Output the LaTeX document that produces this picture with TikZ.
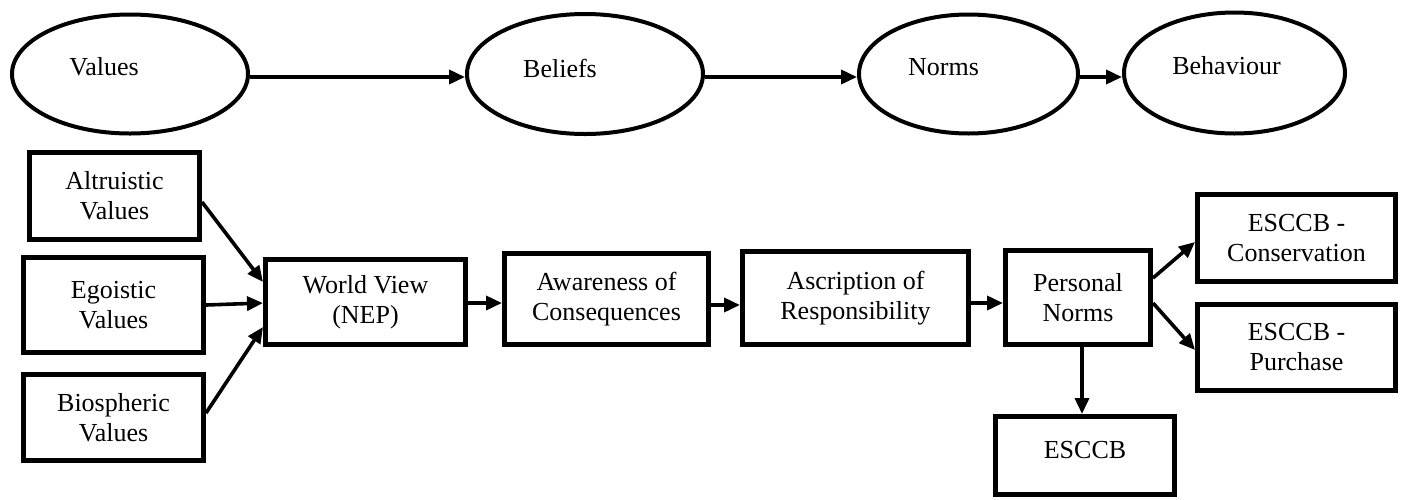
\documentclass[tikz,border=0pt]{standalone}
\usepackage{fontspec}
\setmainfont{Liberation Serif}
\usetikzlibrary{shapes.geometric,arrows.meta}

\begin{document}
\begin{tikzpicture}[x=1pt,y=-1pt,
  every node/.style={font=\fontsize{26}{30}\selectfont},
  oval/.style={draw, ellipse, line width=4pt, inner sep=0pt},
  box/.style={draw, rectangle, line width=5pt, inner sep=0pt, align=center},
  txt/.style={inner sep=0pt, anchor=base},
  link/.style={line width=3.6pt, -{Triangle[length=16pt,width=14pt]}}
]
\useasboundingbox (0,0) rectangle (1405,499);

% upper row: value-belief-norm chain
\node[oval, minimum width=236pt, minimum height=119pt] (val) at (130,74) {};
\node[oval, minimum width=236pt, minimum height=120pt] (bel) at (585,74) {};
\node[oval, minimum width=219pt, minimum height=119pt] (nor) at (968.5,74) {};
\node[oval, minimum width=221pt, minimum height=121pt] (beh) at (1234.5,73) {};
\node[txt] (valt) at (104,75) {Values};
\node[txt] (belt) at (560,77) {Beliefs};
\node[txt] (nort) at (943.5,75) {Norms};
\node[txt] (beht) at (1226.5,74) {Behaviour};

\draw[link] ([yshift=-3pt]val.east) -- ([yshift=-3pt]val.east -| bel.west);
\draw[link] ([yshift=-3pt]bel.east) -- ([yshift=-3pt]bel.east -| nor.west);
\draw[link] ([yshift=-3pt]nor.east) -- ([yshift=-3pt]nor.east -| beh.west);

% lower row: value orientations
\node[box, minimum width=170pt, minimum height=87pt] (alt) at (114.5,196) {Altruistic\\Values};
\node[box, minimum width=180pt, minimum height=95pt] (ego) at (113.5,305) {Egoistic\\Values};
\node[box, minimum width=180pt, minimum height=86pt] (bio) at (113.5,417.5) {Biospheric\\Values};

% lower row: causal chain
\node[box, minimum width=200pt, minimum height=85pt] (wv) at (365.5,302) {World View\\(NEP)};
\node[box, minimum width=204pt, minimum height=91pt] (aw) at (606.5,299) {Awareness of\\Consequences};
\node[box, minimum width=226pt, minimum height=93pt] (as) at (855.5,298) {Ascription of\\Responsibility};
\node[box, minimum width=145pt, minimum height=94pt] (pn) at (1078,297.5) {Personal\\Norms};

% behaviour outcomes
\node[box, minimum width=198pt, minimum height=87pt] (con) at (1296.5,238) {ESCCB -\\Conservation};
\node[box, minimum width=198pt, minimum height=86pt] (pur) at (1296.5,347.5) {ESCCB -\\Purchase};
\node[box, minimum width=179pt, minimum height=78pt] (esc) at (1085,455.5) {};
\node[txt] (esct) at (1085,458) {ESCCB};

% connectors
\draw[link] ([yshift=-6pt]alt.east) -- ([yshift=20pt]wv.west);
\draw[link] (ego.east) -- ([yshift=-1pt]wv.west);
\draw[link] ([yshift=4.5pt]bio.east) -- ([yshift=-25pt]wv.west);
\draw[link] ([yshift=-1pt]wv.east) -- ([yshift=-1pt]wv.east -| aw.west);
\draw[link] ([yshift=-6pt]aw.east) -- ([yshift=-6pt]aw.east -| as.west);
\draw[link] ([yshift=-5pt]as.east) -- ([yshift=-5pt]as.east -| pn.west);
\draw[link] ([yshift=19.5pt]pn.east) -- ([yshift=-4pt]con.west);
\draw[link] ([yshift=-5.5pt]pn.east) -- ([yshift=-2.5pt]pur.west);
\draw[link] ([xshift=4pt]pn.south) -- ([xshift=4pt]pn.south |- esc.north);
\end{tikzpicture}
\end{document}
